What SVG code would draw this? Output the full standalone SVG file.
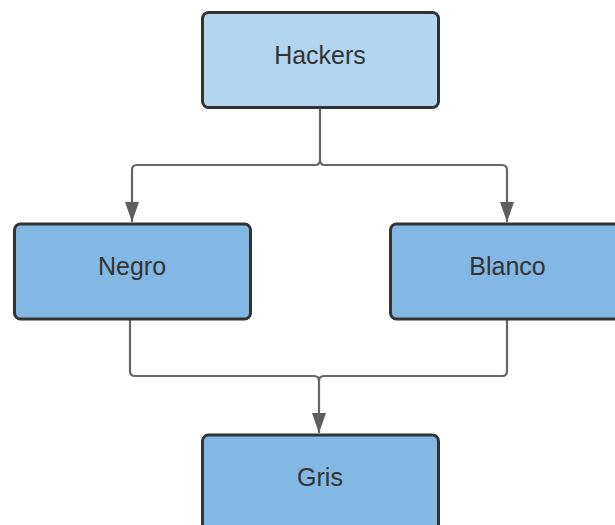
<svg xmlns="http://www.w3.org/2000/svg" width="615" height="525" viewBox="0 0 615 525">
  <defs>
    <marker id="arrow" viewBox="0 0 20 14" refX="20" refY="7" markerWidth="20" markerHeight="14" markerUnits="userSpaceOnUse" orient="auto">
      <path d="M0,0 L20,7 L0,14 Z" fill="#5e5e5e"/>
    </marker>
    <style>
      .box { stroke: #333333; stroke-width: 3; }
      .top { fill: #b3d6f0; }
      .mid { fill: #82b8e3; }
      .label { font-family: "Liberation Sans", Arial, sans-serif; font-size: 25px; fill: #333333; text-anchor: middle; }
      .link { fill: none; stroke: #666666; stroke-width: 2.2; stroke-linejoin: round; }
    </style>
  </defs>
  <rect width="615" height="525" fill="#ffffff"/>

  <g id="connectors">
    <!-- Hackers to Negro / Blanco -->
    <path class="link" d="M320,107 V160 Q320,165 315,165 H137 Q132,165 132,170 V222" marker-end="url(#arrow)"/>
    <path class="link" d="M320,160 Q320,165 325,165 H502 Q507,165 507,170 V222" marker-end="url(#arrow)"/>
    <!-- Negro / Blanco to Gris -->
    <path class="link" d="M130,318 V371 Q130,376 135,376 H314 Q319,376 319,381 V433" marker-end="url(#arrow)"/>
    <path class="link" d="M507,318 V371 Q507,376 502,376 H324 Q319,376 319,381"/>
  </g>

  <g id="hackers">
    <rect class="box top" x="202.5" y="12.5" width="236" height="95" rx="6"/>
    <text class="label" x="320" y="64">Hackers</text>
  </g>

  <g id="negro">
    <rect class="box mid" x="14.5" y="224" width="236" height="95" rx="6"/>
    <text class="label" x="132" y="275">Negro</text>
  </g>

  <g id="blanco">
    <rect class="box mid" x="390.5" y="224" width="236" height="95" rx="6"/>
    <text class="label" x="507.5" y="275">Blanco</text>
  </g>

  <g id="gris">
    <rect class="box mid" x="202.5" y="435" width="236" height="95" rx="6"/>
    <text class="label" x="320" y="486">Gris</text>
  </g>
</svg>
